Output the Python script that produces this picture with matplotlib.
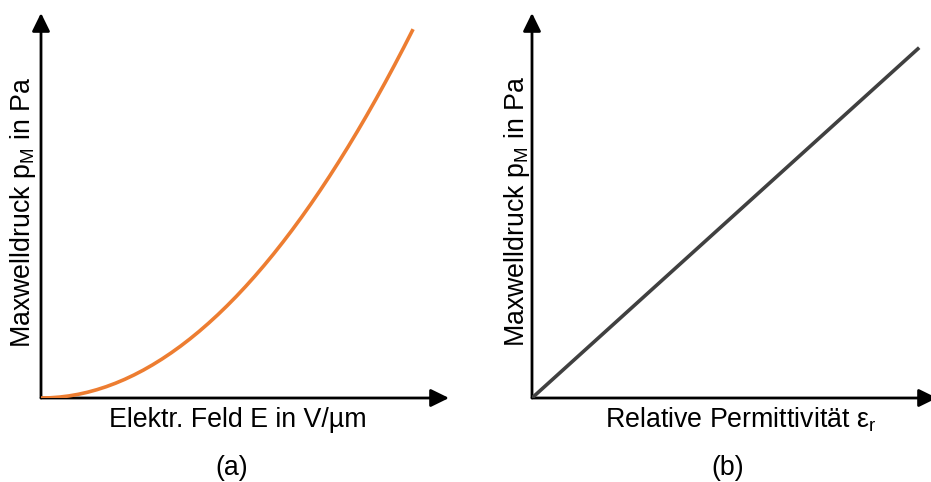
import matplotlib
matplotlib.use("Agg")
import matplotlib.pyplot as plt

plt.rcParams['font.family'] = ['Liberation Sans', 'DejaVu Sans']
plt.rcParams['mathtext.fontset'] = 'custom'
plt.rcParams['mathtext.rm'] = 'Liberation Sans'
plt.rcParams['mathtext.it'] = 'Liberation Sans:italic'

# Panel (a): Maxwell pressure vs electric field (quadratic, arbitrary units)
field_E = [0.0, 0.025, 0.05, 0.075, 0.1, 0.125, 0.15, 0.175, 0.2, 0.225, 0.25,
           0.275, 0.3, 0.325, 0.35, 0.375, 0.4, 0.425, 0.45, 0.475, 0.5,
           0.525, 0.55, 0.575, 0.6, 0.625, 0.65, 0.675, 0.7, 0.725, 0.75,
           0.775, 0.8, 0.825, 0.85, 0.875, 0.9, 0.925, 0.95, 0.975, 1.0]
pressure_a = [0.0, 0.0006, 0.0025, 0.0056, 0.01, 0.0156, 0.0225, 0.0306, 0.04, 0.0506, 0.0625,
              0.0756, 0.09, 0.1056, 0.1225, 0.1406, 0.16, 0.1806, 0.2025, 0.2256, 0.25,
              0.2756, 0.3025, 0.3306, 0.36, 0.3906, 0.4225, 0.4556, 0.49, 0.5256, 0.5625,
              0.6006, 0.64, 0.6806, 0.7225, 0.7656, 0.81, 0.8556, 0.9025, 0.9506, 1.0]
# Panel (b): Maxwell pressure vs relative permittivity (linear)
permittivity = [0.0, 1.0]
pressure_b = [0.0, 0.91]

xlabel_a = "Elektr. Feld E in V/µm"
xlabel_b = "Relative Permittivität ε$_\\mathrm{r}$"
ylabel = "Maxwelldruck p$_\\mathrm{M}$ in Pa"
panel_labels = ["(a)", "(b)"]

W, H = 931, 482
fig = plt.figure(figsize=(W / 100, H / 100), dpi=100)

def px_axes(x0, y0, x1, y1):
    return fig.add_axes([x0 / W, 1 - y0 / H, (x1 - x0) / W, (y0 - y1) / H])

def style(ax):
    for s in ax.spines.values():
        s.set_visible(False)
    ax.set_xticks([])
    ax.set_yticks([])
    ax.patch.set_alpha(0)
    kw = dict(arrowstyle='-|>,head_length=0.55,head_width=0.27', lw=2.0,
              color='black', mutation_scale=20, shrinkA=0, shrinkB=0)
    ax.annotate('', xy=(1, 0), xytext=(0, 0), xycoords='axes fraction',
                arrowprops=kw, annotation_clip=False)
    ax.annotate('', xy=(0, 1), xytext=(0, 0), xycoords='axes fraction',
                arrowprops=kw, annotation_clip=False)

# left panel
axa = px_axes(41, 398, 449, 13)
style(axa)
axa.plot(field_E, pressure_a, color='#ED7D31', lw=2.6, solid_capstyle='butt', zorder=3)
axa.set_xlim(0, 1 / 0.912)
axa.set_ylim(0, 1 / 0.958)

# right panel
axb = px_axes(532, 398, 937, 13)
style(axb)
axb.plot(permittivity, pressure_b, color='#404040', lw=2.6, solid_capstyle='butt', zorder=3)
axb.set_xlim(0, 1 / 0.956)
axb.set_ylim(0, 1.0)

fs = 19.3
def ftext(x, y, s, **kw):
    fig.text(x / W, 1 - y / H, s, fontsize=fs, ha='center', va='center', **kw)

ftext(23, 212, ylabel, rotation=90)
ftext(238, 420, xlabel_a)
ftext(232, 468, panel_labels[0])
ftext(517, 211, ylabel, rotation=90)
ftext(741, 420, xlabel_b)
ftext(728, 468, panel_labels[1])

fig.savefig("out.png", dpi=100)
